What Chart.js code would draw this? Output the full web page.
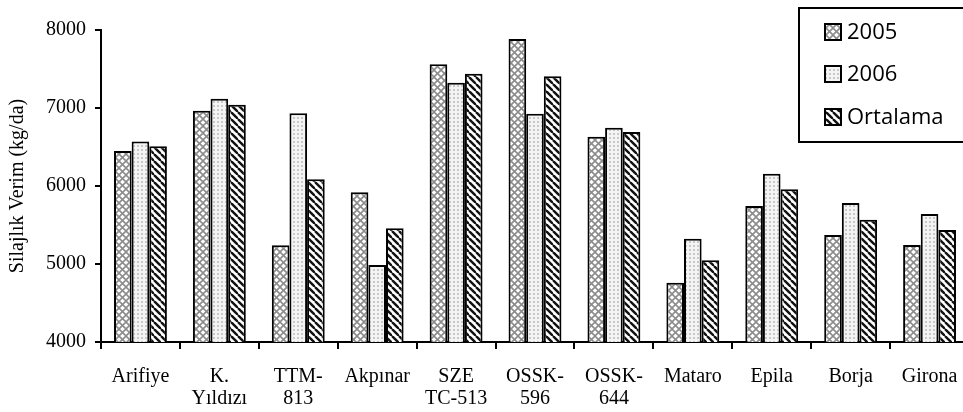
<!DOCTYPE html>
<html>
<head>
<meta charset="utf-8">
<script src="https://cdn.jsdelivr.net/npm/chart.js@4.4.0/dist/chart.umd.min.js"></script>
<style>
    html, body { margin: 0; padding: 0; background: #fff; overflow: hidden; }
    #wrap { position: relative; width: 975px; height: 412px; }
</style>
</head>
<body>
<div id="wrap"><canvas id="chart"></canvas></div>
<script>
const categories = ['Arifiye', ['K.', 'Yıldızı'], ['TTM-', '813'], 'Akpınar', ['SZE', 'TC-513'],
    ['OSSK-', '596'], ['OSSK-', '644'], 'Mataro', 'Epila', 'Borja', 'Girona'];
const y2005 = [6450, 6965, 5240, 5919, 7560, 7885, 6632, 4760, 5744, 5372, 5244];
const y2006 = [6570, 7119, 6932, 4987, 7325, 6927, 6747, 5325, 6158, 5782, 5641];
const ortalama = [6510, 7042, 6086, 5458, 7440, 7406, 6692, 5047, 5958, 5568, 5436];
const seriesNames = ['2005', '2006', 'Ortalama'];
const yMin = 4000, yMax = 8000, yStep = 1000;
const yTitle = 'Silajlık Verim (kg/da)';

// --- fill patterns ---
function tile(size, draw) {
    const c = document.createElement('canvas');
    c.width = c.height = size;
    const g = c.getContext('2d');
    draw(g, size);
    return document.createElement('canvas').getContext('2d').createPattern(c, 'repeat');
}

const crossHatch = tile(7, (g, s) => {
    g.fillStyle = '#fff';
    g.fillRect(0, 0, s, s);
    g.strokeStyle = '#8c8c8c';
    g.lineWidth = 1.6;
    for (const o of [-s, 0, s]) {
        g.beginPath(); g.moveTo(o, 0); g.lineTo(o + s, s); g.stroke();
        g.beginPath(); g.moveTo(o + s, 0); g.lineTo(o, s); g.stroke();
    }
});

const dots = tile(4, (g, s) => {
    g.fillStyle = '#f4f4f4';
    g.fillRect(0, 0, s, s);
    g.fillStyle = '#c8c8c8';
    g.fillRect(1, 1, 2, 2);
});

const stripes = tile(7, (g, s) => {
    g.fillStyle = '#fff';
    g.fillRect(0, 0, s, s);
    g.strokeStyle = '#111';
    g.lineWidth = 2.4;
    for (const o of [-s, 0, s]) {
        g.beginPath(); g.moveTo(o, 0); g.lineTo(o + s, s); g.stroke();
    }
});

const fills = [crossHatch, dots, stripes];

// --- legend in a box, top right ---
const boxLegend = {
    id: 'boxLegend',
    afterDraw(chart) {
        const ctx = chart.ctx;
        ctx.save();
        ctx.lineWidth = 2;
        ctx.strokeStyle = '#000';
        ctx.fillStyle = '#fff';
        ctx.fillRect(799, 8, 200, 134);
        ctx.strokeRect(799, 8, 200, 134);
        const rows = [32, 74, 117];
        ctx.font = '22px "Open Sans"';
        ctx.textBaseline = 'middle';
        seriesNames.forEach((name, i) => {
            ctx.fillStyle = fills[i];
            ctx.fillRect(825, rows[i] - 8, 16, 16);
            ctx.strokeRect(825, rows[i] - 8, 16, 16);
            ctx.fillStyle = '#000';
            ctx.fillText(name, 847, rows[i] + 1);
        });
        ctx.restore();
    }
};

const serif = 'Liberation Serif';

new Chart(document.getElementById('chart'), {
    type: 'bar',
    data: {
        labels: categories,
        datasets: [y2005, y2006, ortalama].map((data, i) => ({
            label: seriesNames[i],
            data,
            backgroundColor: fills[i],
            borderColor: '#000',
            borderWidth: 2,
            borderSkipped: 'bottom',
            categoryPercentage: 0.67,
            barPercentage: 1.0
        }))
    },
    options: {
        responsive: true,
        maintainAspectRatio: false,
        animation: false,
        layout: { padding: { left: 6, top: 30, right: 6, bottom: 0 } },
        plugins: { legend: { display: false }, tooltip: { enabled: false } },
        scales: {
            x: {
                grid: { drawOnChartArea: false, drawTicks: true, tickLength: 7, color: '#000', lineWidth: 2, offset: true },
                border: { color: '#000', width: 2 },
                ticks: { color: '#000', font: { family: serif, size: 20, lineHeight: 1.1 }, maxRotation: 0, autoSkip: false, padding: 17 },
                afterFit: s => { s.height = 70; }
            },
            y: {
                min: yMin,
                max: yMax,
                grid: { drawOnChartArea: false, drawTicks: true, tickLength: 6, color: '#000', lineWidth: 2 },
                border: { color: '#000', width: 2 },
                ticks: { stepSize: yStep, color: '#000', font: { family: serif, size: 20 }, padding: 9, callback: v => String(v) },
                title: { display: true, text: yTitle, color: '#000', font: { family: serif, size: 20 }, padding: 0 },
                afterFit: s => { s.width = 95; }
            }
        }
    },
    plugins: [boxLegend]
});
</script>
</body>
</html>
